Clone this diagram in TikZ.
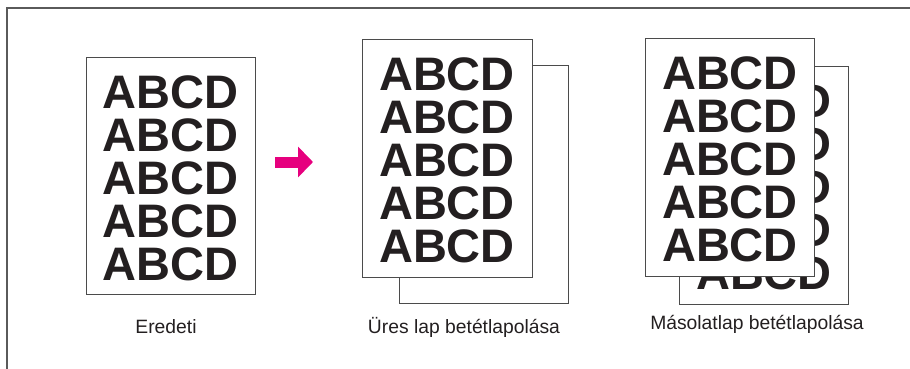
\documentclass[tikz,border=0pt]{standalone}
\usepackage{fontspec}
\setmainfont{Liberation Sans}
\usepackage{tikz}
\usetikzlibrary{arrows.meta}
\usepackage{xcolor}
\definecolor{inkblack}{RGB}{35,31,32}
\definecolor{pagegray}{RGB}{75,75,75}
\definecolor{framegray}{RGB}{90,90,90}
\definecolor{mymagenta}{RGB}{230,0,126}

\begin{document}
\begin{tikzpicture}[x=1pt, y=-1pt,
    page/.style={draw=pagegray, line width=0.8pt, fill=white, anchor=north west,
      minimum width=169pt, minimum height=238pt, inner sep=0pt},
    glyphs/.style={anchor=base, inner sep=0pt, text=inkblack,
      font=\bfseries\fontsize{47}{47}\selectfont},
    caption/.style={anchor=base, inner sep=0pt, text=inkblack,
      font=\fontsize{19.3}{19.3}\selectfont},
    pointer/.style={mymagenta, line width=11pt, -{Triangle[length=15pt,width=30pt]}}]
  \useasboundingbox (0,0) rectangle (910,368);
  % Frame
  \draw[framegray, line width=1.3pt] (7,370) |- (912,8);
  % Original
  \node[page, minimum height=237pt] (orig) at (86,57) {};
  \foreach \k in {0,...,4}{
    \node[glyphs] (orig\k) at (170.5,{108+43*\k}) {ABCD};
  }
  % Arrow
  \coordinate (arrowtail) at (275,162);
  \coordinate (arrowtip) at (313,162);
  \draw[pointer] (arrowtail) -- (arrowtip);
  % Blank insert sheet
  \node[page] (blankback) at (399,65) {};
  \node[page, minimum width=170pt] (blankfront) at (362,39) {};
  \foreach \k in {0,...,4}{
    \node[glyphs] (blank\k) at (447,{90+43*\k}) {ABCD};
  }
  % Copy insert sheet
  \node[page] (copyback) at (679,66) {};
  \foreach \k in {0,...,4}{
    \node[glyphs] (copyb\k) at (764,{117+43*\k}) {ABCD};
  }
  \node[page] (copyfront) at (645,38) {};
  \foreach \k in {0,...,4}{
    \node[glyphs] (copyf\k) at (730,{89+43*\k}) {ABCD};
  }
  % Captions
  \node[caption] (origlabel) at (166,333) {Eredeti};
  \node[caption] (blanklabel) at (464,333) {Üres lap betétlapolása};
  \node[caption] (copylabel) at (757,329) {Másolatlap betétlapolása};
\end{tikzpicture}
\end{document}
